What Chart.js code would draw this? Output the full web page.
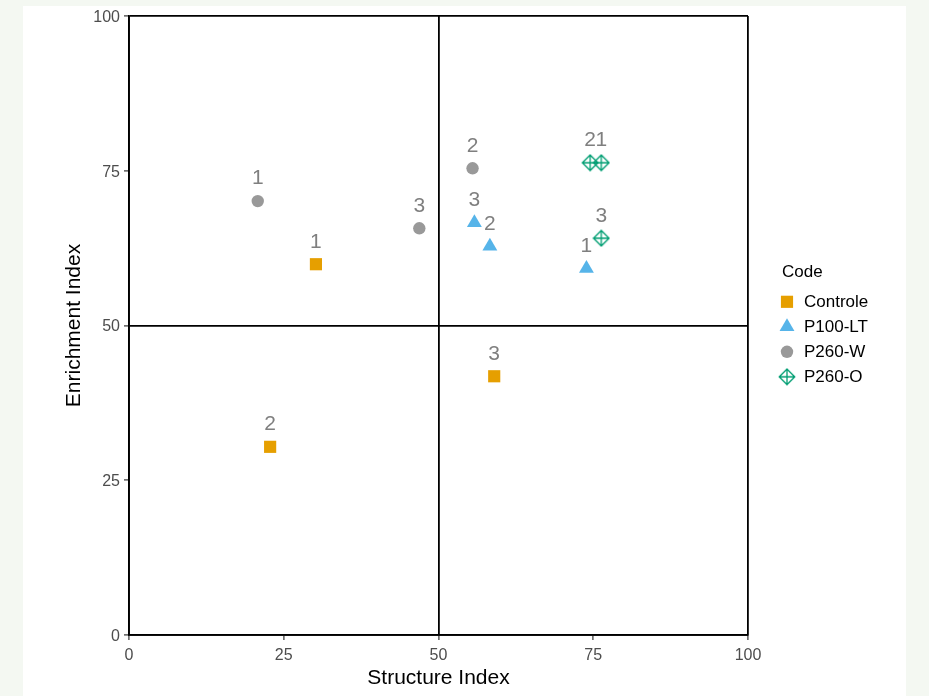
<!DOCTYPE html>
<html>
<head>
<meta charset="utf-8">
<script src="https://cdn.jsdelivr.net/npm/chart.js@4.4.1/dist/chart.umd.min.js"></script>
<style>
  html, body { margin: 0; padding: 0; width: 929px; height: 696px; overflow: hidden; background: #f4f8f2; }
  #panel { position: absolute; left: 23px; top: 6px; width: 883px; height: 690px; background: #ffffff; }
  canvas { display: block; }
</style>
</head>
<body>
<div id="panel"><canvas id="c" width="883" height="690"></canvas></div>
<script>
// Structure Index (x) and Enrichment Index (y) per treatment, replicates 1-3
const codes = ['Controle', 'P100-LT', 'P260-W', 'P260-O'];

const controleSI = [30.2, 22.8, 59.0];
const controleEI = [59.9, 30.4, 41.8];
const controleRep = ['1', '2', '3'];

const p100ltSI = [73.9, 58.3, 55.8];
const p100ltEI = [59.2, 62.8, 66.6];
const p100ltRep = ['1', '2', '3'];

const p260wSI = [20.8, 55.5, 46.9];
const p260wEI = [70.1, 75.4, 65.7];
const p260wRep = ['1', '2', '3'];

const p260oSI = [76.3, 74.5, 76.3];
const p260oEI = [76.3, 76.3, 64.1];
const p260oRep = ['1', '2', '3'];

const axisTicks = [0, 25, 50, 75, 100];
const quadrantLines = [0, 50, 100];
const labelNudge = 3.9; // replicate labels sit this many index units above the point

const FONT = '"Liberation Sans", Arial, Helvetica, sans-serif';

// ggplot-style "diamond plus" marker
function diamondPlus(size, color) {
  const c = document.createElement('canvas');
  c.width = size; c.height = size;
  const g = c.getContext('2d');
  const h = size / 2, r = h - 1.2;
  g.strokeStyle = color;
  g.lineWidth = 1.3;
  g.beginPath();
  g.moveTo(h, h - r); g.lineTo(h + r, h); g.lineTo(h, h + r); g.lineTo(h - r, h); g.closePath();
  g.moveTo(h, h - r); g.lineTo(h, h + r);
  g.moveTo(h - r, h); g.lineTo(h + r, h);
  g.stroke();
  return c;
}

const pts = (xs, ys) => xs.map((x, i) => ({ x: x, y: ys[i] }));

const datasets = [
  { label: codes[0], data: pts(controleSI, controleEI), reps: controleRep,
    pointStyle: 'rect', pointRadius: 8.6, backgroundColor: '#E69F00', borderWidth: 0 },
  { label: codes[1], data: pts(p100ltSI, p100ltEI), reps: p100ltRep,
    pointStyle: 'triangle', pointRadius: 8.6, backgroundColor: '#56B4E9', borderWidth: 0 },
  { label: codes[2], data: pts(p260wSI, p260wEI), reps: p260wRep,
    pointStyle: 'circle', pointRadius: 6.2, backgroundColor: '#999999', borderWidth: 0 },
  { label: codes[3], data: pts(p260oSI, p260oEI), reps: p260oRep,
    pointStyle: diamondPlus(18, '#009E73'), pointRadius: 8, backgroundColor: '#009E73', borderWidth: 0 }
];

// replicate numbers above each point
const pointLabels = {
  id: 'pointLabels',
  afterDatasetsDraw(chart) {
    const ctx = chart.ctx;
    const ys = chart.scales.y;
    const lift = ys.getPixelForValue(0) - ys.getPixelForValue(labelNudge);
    ctx.save();
    ctx.font = '21px ' + FONT;
    ctx.fillStyle = '#7f7f7f';
    ctx.textAlign = 'center';
    ctx.textBaseline = 'alphabetic';
    chart.data.datasets.forEach((ds, i) => {
      chart.getDatasetMeta(i).data.forEach((el, j) => {
        ctx.fillText(ds.reps[j], el.x, el.y - lift + 21 * 0.358);
      });
    });
    ctx.restore();
  }
};

// legend block with title "Code" to the right of the panel
const codeLegend = {
  id: 'codeLegend',
  afterDraw(chart) {
    const ctx = chart.ctx;
    const x0 = chart.chartArea.right + 34;
    ctx.save();
    ctx.fillStyle = '#000';
    ctx.textAlign = 'left';
    ctx.textBaseline = 'middle';
    ctx.font = '17px ' + FONT;
    ctx.fillText('Code', x0, 266);
    chart.data.datasets.forEach((ds, i) => {
      const y = 295.8 + 25 * i;
      ctx.fillStyle = ds.backgroundColor;
      Chart.helpers.drawPoint(ctx, {
        pointStyle: ds.pointStyle, radius: ds.pointRadius, rotation: 0, borderWidth: 0
      }, x0 + 5, y);
      ctx.fillStyle = '#000';
      ctx.font = '17px ' + FONT;
      ctx.fillText(ds.label, x0 + 22, y + 1);
    });
    ctx.restore();
  }
};

const gridColor = c => (c.tick && quadrantLines.includes(c.tick.value)) ? '#000000' : 'rgba(0,0,0,0)';

function axis(title, fit, titlePad, tickPad, labelOffset) {
  return {
    type: 'linear', min: 0, max: 100,
    afterBuildTicks: s => { s.ticks = axisTicks.map(v => ({ value: v })); },
    ticks: { color: '#4d4d4d', font: { family: FONT, size: 16 }, padding: tickPad, labelOffset: labelOffset },
    grid: { color: gridColor, lineWidth: 1.8, tickColor: '#333333', tickLength: 5, tickWidth: 1.2 },
    border: { display: true, color: '#000000', width: 1.8 },
    title: { display: true, text: title, color: '#000000', font: { family: FONT, size: 21 }, padding: titlePad },
    afterFit: fit
  };
}

new Chart(document.getElementById('c'), {
  type: 'scatter',
  data: { datasets: datasets },
  options: {
    responsive: false,
    animation: false,
    layout: { padding: { left: 0, top: 10, right: 158, bottom: 0 } },
    plugins: { legend: { display: false }, tooltip: { enabled: false } },
    scales: {
      x: axis('Structure Index', s => { s.height = 61; s.paddingLeft = 0; s.paddingRight = 0; }, { top: 0, bottom: 5 }, 6, 0),
      y: axis('Enrichment Index', s => { s.width = 106; s.paddingTop = 0; s.paddingBottom = 0; }, { top: 39, bottom: 0 }, 4, 1.5)
    }
  },
  plugins: [pointLabels, codeLegend]
});
</script>
</body>
</html>
